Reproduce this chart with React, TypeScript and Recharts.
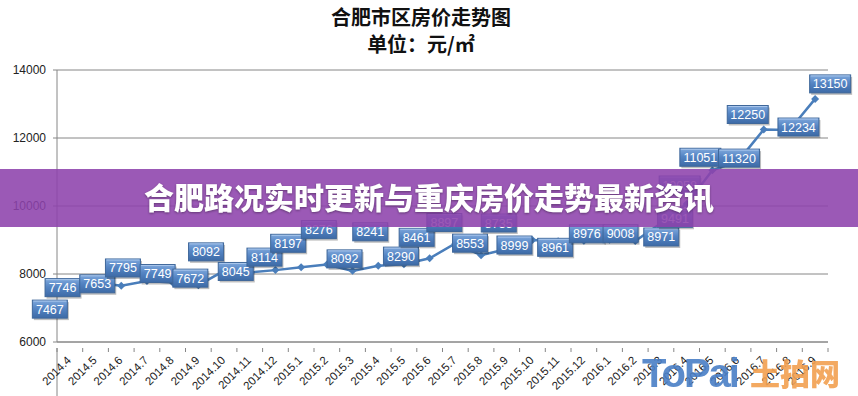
import React from 'react';
import { LineChart, Line, XAxis, YAxis, CartesianGrid, LabelList } from 'recharts';

const MONTHS = [
  '2014.4', '2014.5', '2014.6', '2014.7', '2014.8', '2014.9', '2014.10', '2014.11', '2014.12',
  '2015.1', '2015.2', '2015.3', '2015.4', '2015.5', '2015.6', '2015.7', '2015.8', '2015.9',
  '2015.10', '2015.11', '2015.12', '2016.1', '2016.2', '2016.3', '2016.4', '2016.5', '2016.6',
  '2016.7', '2016.8', '2016.9',
];

const PRICES = [
  7467, 7746, 7653, 7795, 7749, 7672, 8092, 8045, 8114, 8197, 8276, 8092, 8241, 8290, 8461,
  8897, 8553, 8735, 8999, 8961, 8976, 9008, 8971, 9491, 10058, 11051, 11320, 12250, 12234, 13150,
];

const Y_TICKS = [6000, 8000, 10000, 12000, 14000];

// where each callout sits relative to its point (box centre)
const LABEL_DX = [-20, -33, -24, -24, -15, -8, -18, -14, -11, -13, -8, -8, -8, -3, -13, -11, -11, -8, -18, -3, 3, 11, 26, 14, -7, -12, 1, -16, 9, 15];
const LABEL_DY = [17, 5, -2, -13, -9, -7, -19, -1, -13, -24, -35, -12, -34, -8, -21, -21, -12, -26, 5, 6, -7, -6, -4, -5, -19, -13, -3, -15, -3, -15];

const data = MONTHS.map((m, i) => ({ month: m, price: PRICES[i] }));

const W = 858;
const H = 396;
const PLOT_LEFT = 57;
const PLOT_RIGHT = 828;
const STEP = (PLOT_RIGHT - PLOT_LEFT) / MONTHS.length;
const AXIS_GRAY = '#868686';
const LINE_BLUE = '#4a7ebb';

const XTick = (props: any) => {
  const { x, y, payload } = props;
  const i = props.index ?? payload.index;
  const half = STEP / 2;
  const baseY = y - 2;
  return (
    <g>
      <line x1={x - half} x2={x - half} y1={baseY} y2={baseY + 4} stroke={AXIS_GRAY} />
      {i === 0 && <line x1={x - half} x2={x - half} y1={baseY} y2={H} stroke={AXIS_GRAY} />}
      {i === MONTHS.length - 1 && (
        <line x1={x + half} x2={x + half} y1={baseY} y2={baseY + 4} stroke={AXIS_GRAY} />
      )}
      <text
        x={x + 2}
        y={baseY + 13}
        transform={`rotate(-45 ${x + 2} ${baseY + 13})`}
        textAnchor="end"
        fontSize={11.5}
        fontFamily="Liberation Sans, Arial, sans-serif"
        fill="#222"
      >
        {payload.value}
      </text>
    </g>
  );
};

const Diamond = (props: any) => {
  const { cx, cy } = props;
  if (cx == null || cy == null) return null;
  const r = 4;
  return <path d={`M${cx},${cy - r}L${cx + r},${cy}L${cx},${cy + r}L${cx - r},${cy}Z`} fill={LINE_BLUE} />;
};

const Callout = (props: any) => {
  const { x, y, value, index } = props;
  const text = String(value);
  const w = text.length > 4 ? 41 : 35;
  const h = 18;
  const cx = x + LABEL_DX[index];
  const cy = y + LABEL_DY[index];
  const left = cx - w / 2;
  const top = cy - h / 2;
  return (
    <g>
      <rect x={left + 1.5} y={top + 2} width={w} height={h} fill="rgba(0,0,0,0.25)" />
      <rect x={left} y={top} width={w} height={h} fill="url(#calloutFill)" stroke="#3f679a" strokeWidth={1} />
      <line x1={left + 1} x2={left + w - 1} y1={top + 1} y2={top + 1} stroke="#a9c6ec" />
      <text
        x={cx}
        y={cy + 4.5}
        textAnchor="middle"
        fontSize={12.5}
        fontFamily="Liberation Sans, Arial, sans-serif"
        fill="#fff"
      >
        {text}
      </text>
    </g>
  );
};

export default function App() {
  return (
    <div style={{ position: 'absolute', left: 0, top: 0, width: W, height: H, background: '#fff', overflow: 'hidden' }}>
      <svg width={0} height={0} style={{ position: 'absolute' }}>
        <defs>
          <linearGradient id="calloutFill" x1="0" y1="0" x2="0" y2="1">
            <stop offset="0%" stopColor="#7fa8dc" />
            <stop offset="45%" stopColor="#5585c4" />
            <stop offset="100%" stopColor="#3d6aa6" />
          </linearGradient>
        </defs>
      </svg>
      <div
        style={{
          position: 'absolute',
          top: 3,
          left: 0,
          width: 842,
          textAlign: 'center',
          fontFamily: '"Noto Sans CJK SC", sans-serif',
          fontWeight: 700,
          fontSize: 20,
          lineHeight: '27px',
          color: '#111',
        }}
      >
        <div>合肥市区房价走势图</div>
        <div>单位：元/㎡</div>
      </div>
      <LineChart width={W} height={H} data={data} margin={{ top: 70, right: W - PLOT_RIGHT, bottom: 0, left: 0 }}>
        <CartesianGrid horizontal vertical={false} stroke={AXIS_GRAY} />
        <XAxis
          dataKey="month"
          interval={0}
          height={H - 342}
          padding={{ left: STEP / 2, right: STEP / 2 }}
          axisLine={{ stroke: AXIS_GRAY }}
          tickLine={false}
          tick={<XTick />}
        />
        <YAxis
          width={PLOT_LEFT}
          domain={[6000, 14000]}
          ticks={Y_TICKS}
          interval={0}
          axisLine={{ stroke: AXIS_GRAY }}
          tickLine={{ stroke: AXIS_GRAY }}
          tickSize={4}
          tickMargin={7}
          tick={{ fontSize: 12, fill: '#222', fontFamily: 'Liberation Sans, Arial, sans-serif' }}
        />
        <Line
          type="linear"
          dataKey="price"
          stroke={LINE_BLUE}
          strokeWidth={2.5}
          dot={<Diamond />}
          activeDot={false}
          isAnimationActive={false}
        >
          <LabelList dataKey="price" content={<Callout />} />
        </Line>
      </LineChart>
      <svg width={W} height={H} style={{ position: 'absolute', left: 0, top: 0, pointerEvents: 'none' }}>
        <rect x={0} y={169} width={W} height={58} fill="rgba(141,66,172,0.88)" />
        <text
          x={429}
          y={209}
          textAnchor="middle"
          fontSize={30}
          fontWeight={900}
          fontFamily='"Noto Sans CJK SC", sans-serif'
          fill="#fff"
          style={{ filter: 'drop-shadow(0 1px 1px rgba(0,0,0,0.35))' }}
        >
          合肥路况实时更新与重庆房价走势最新资讯
        </text>
        <g opacity={0.9}>
          <text
            x={642}
            y={387}
            fontSize={40}
            fontWeight={700}
            letterSpacing={-2}
            fontFamily="Liberation Sans, Arial, sans-serif"
            fill="#4a7fc6"
          >
            ToPai
          </text>
          <text
            x={750}
            y={385}
            fontSize={30}
            fontWeight={900}
            fontFamily='"Noto Sans CJK SC", sans-serif'
            fill="#f2a050"
          >
            土拍网
          </text>
        </g>
      </svg>
    </div>
  );
}
